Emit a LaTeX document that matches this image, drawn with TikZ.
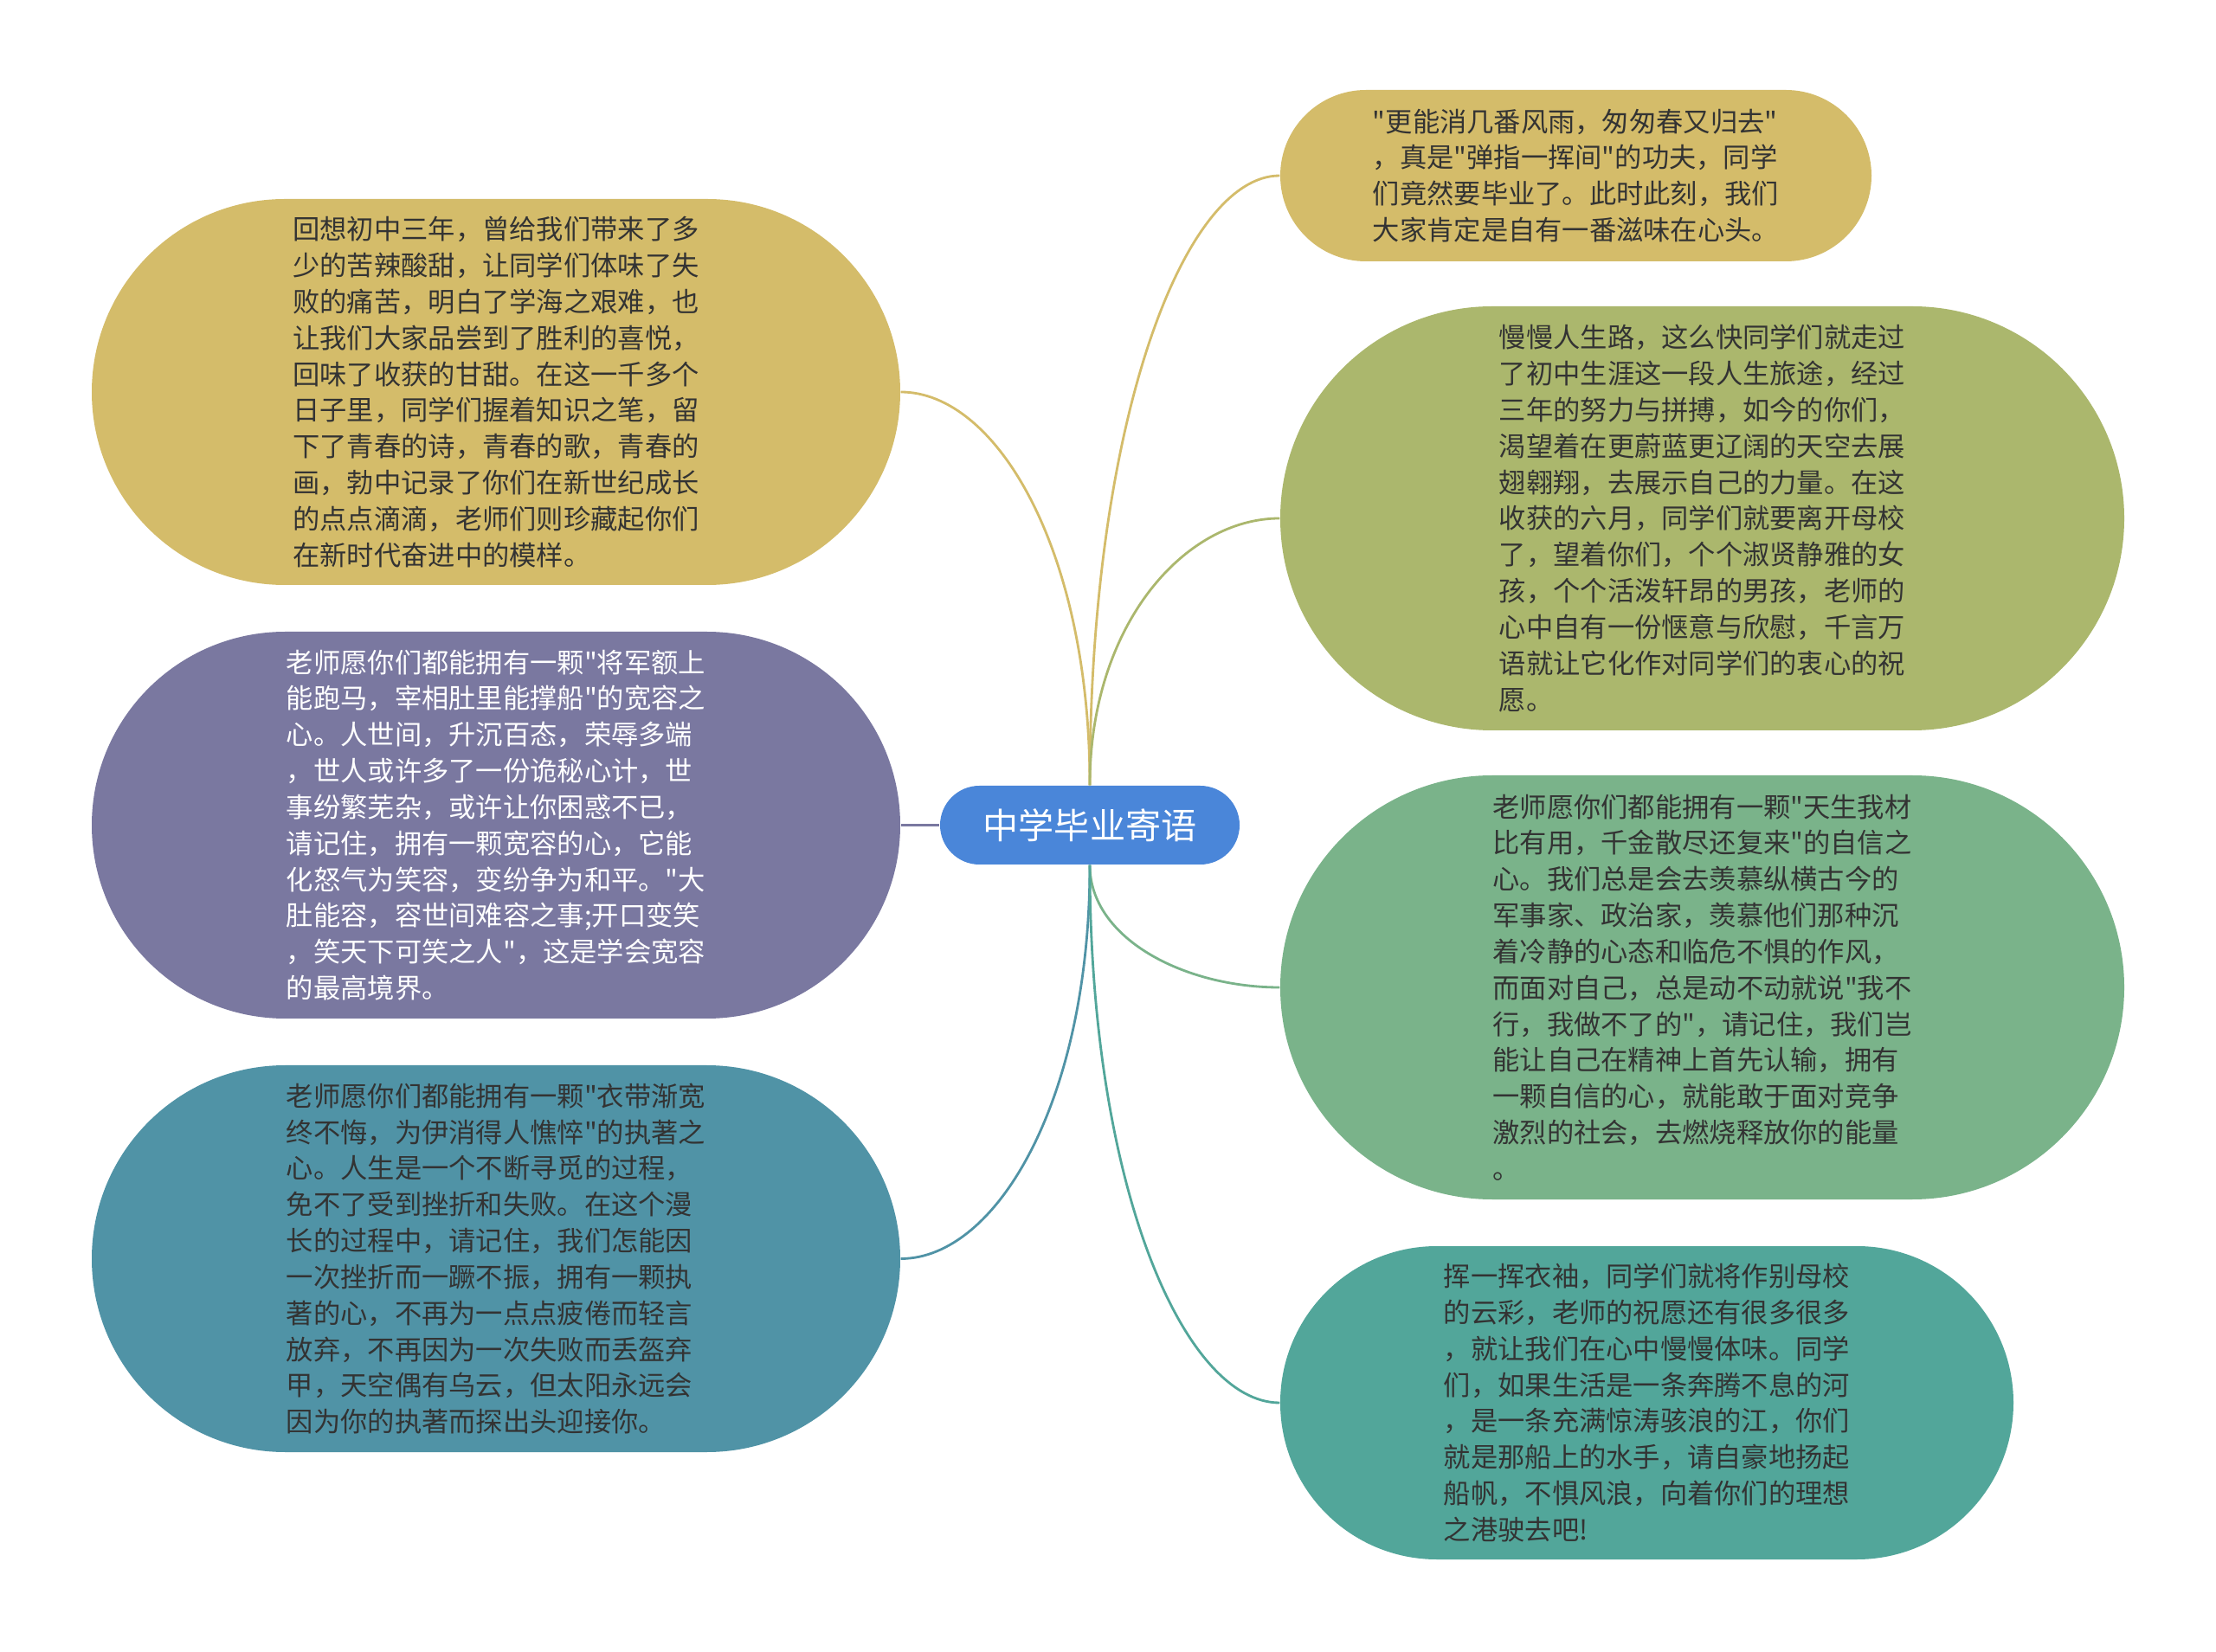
\documentclass[tikz,border=0pt]{standalone}
\usepackage{fontspec}
\setmainfont{Noto Sans CJK SC}[Ligatures=TeXOff]
\usetikzlibrary{shapes.misc}

\definecolor{gold}{HTML}{D4BC6A}
\definecolor{lilac}{HTML}{7A78A0}
\definecolor{petrol}{HTML}{5093A6}
\definecolor{olive}{HTML}{ABB76D}
\definecolor{sage}{HTML}{7AB38A}
\definecolor{sea}{HTML}{52A69A}
\definecolor{rootblue}{HTML}{4A86D9}
\definecolor{ink}{HTML}{333333}

\begin{document}
\begin{tikzpicture}[
	bubble/.style={rounded rectangle, inner sep=0pt, align=left, text=ink,
		font=\fontsize{8.9pt}{11.9pt}\selectfont},
	root/.style={rounded rectangle, inner sep=0pt, fill=rootblue, text=white,
		minimum width=3.46cm, minimum height=0.91cm,
		font=\fontsize{11.7pt}{14pt}\selectfont},
	link/.style={line width=0.8pt}
	]
	\fill[white] (0,0) rectangle (25.6,-19.09);
	\useasboundingbox (0,0) rectangle (25.6,-19.09);

	\node[root] (centre) at (12.59,-9.535) {中学毕业寄语};

	% left side
	\node[bubble, fill=gold, minimum width=9.34cm, minimum height=4.46cm] (recall) at (5.73,-4.53)
	{回想初中三年，曾给我们带来了多\\少的苦辣酸甜，让同学们体味了失\\败的痛苦，明白了学海之艰难，也\\让我们大家品尝到了胜利的喜悦，\\回味了收获的甘甜。在这一千多个\\日子里，同学们握着知识之笔，留\\下了青春的诗，青春的歌，青春的\\画，勃中记录了你们在新世纪成长\\的点点滴滴，老师们则珍藏起你们\\在新时代奋进中的模样。};
	\node[bubble, fill=lilac, text=white, minimum width=9.34cm, minimum height=4.47cm] (tolerance) at (5.73,-9.535)
	{老师愿你们都能拥有一颗"将军额上\\能跑马，宰相肚里能撑船"的宽容之\\心。人世间，升沉百态，荣辱多端\\，世人或许多了一份诡秘心计，世\\事纷繁芜杂，或许让你困惑不已，\\请记住，拥有一颗宽容的心，它能\\化怒气为笑容，变纷争为和平。"大\\肚能容，容世间难容之事;开口变笑\\，笑天下可笑之人"，这是学会宽容\\的最高境界。};
	\node[bubble, fill=petrol, minimum width=9.34cm, minimum height=4.47cm] (persist) at (5.73,-14.545)
	{老师愿你们都能拥有一颗"衣带渐宽\\终不悔，为伊消得人憔悴"的执著之\\心。人生是一个不断寻觅的过程，\\免不了受到挫折和失败。在这个漫\\长的过程中，请记住，我们怎能因\\一次挫折而一蹶不振，拥有一颗执\\著的心，不再为一点点疲倦而轻言\\放弃，不再因为一次失败而丢盔弃\\甲，天空偶有乌云，但太阳永远会\\因为你的执著而探出头迎接你。};

	% right side
	\node[bubble, fill=gold, minimum width=6.83cm, minimum height=1.98cm] (spring) at (18.205,-2.03)
	{"更能消几番风雨，匆匆春又归去"\\，真是"弹指一挥间"的功夫，同学\\们竟然要毕业了。此时此刻，我们\\大家肯定是自有一番滋味在心头。};
	\node[bubble, fill=olive, minimum width=9.75cm, minimum height=4.9cm] (journey) at (19.665,-5.99)
	{慢慢人生路，这么快同学们就走过\\了初中生涯这一段人生旅途，经过\\三年的努力与拼搏，如今的你们，\\渴望着在更蔚蓝更辽阔的天空去展\\翅翱翔，去展示自己的力量。在这\\收获的六月，同学们就要离开母校\\了，望着你们，个个淑贤静雅的女\\孩，个个活泼轩昂的男孩，老师的\\心中自有一份惬意与欣慰，千言万\\语就让它化作对同学们的衷心的祝\\愿。};
	\node[bubble, fill=sage, minimum width=9.75cm, minimum height=4.9cm] (confidence) at (19.665,-11.41)
	{老师愿你们都能拥有一颗"天生我材\\比有用，千金散尽还复来"的自信之\\心。我们总是会去羡慕纵横古今的\\军事家、政治家，羡慕他们那种沉\\着冷静的心态和临危不惧的作风，\\而面对自己，总是动不动就说"我不\\行，我做不了的"，请记住，我们岂\\能让自己在精神上首先认输，拥有\\一颗自信的心，就能敢于面对竞争\\激烈的社会，去燃烧释放你的能量\\。};
	\node[bubble, fill=sea, minimum width=8.47cm, minimum height=3.62cm] (sail) at (19.025,-16.21)
	{挥一挥衣袖，同学们就将作别母校\\的云彩，老师的祝愿还有很多很多\\，就让我们在心中慢慢体味。同学\\们，如果生活是一条奔腾不息的河\\，是一条充满惊涛骇浪的江，你们\\就是那船上的水手，请自豪地扬起\\船帆，不惧风浪，向着你们的理想\\之港驶去吧!};

	\draw[link, gold] (centre.north) .. controls +(0,2.73) and +(1.1,0) .. (recall.east);
	\draw[link, lilac] (centre.west) -- (tolerance.east);
	\draw[link, petrol] (centre.south) .. controls +(0,-2.73) and +(1.1,0) .. (persist.east);
	\draw[link, gold] (centre.north) .. controls +(0,4.23) and +(-1.1,0) .. (spring.west);
	\draw[link, olive] (centre.north) .. controls +(0,1.85) and +(-1.1,0) .. (journey.west);
	\draw[link, sage] (centre.south) .. controls +(0,-0.85) and +(-1.1,0) .. (confidence.west);
	\draw[link, sea] (centre.south) .. controls +(0,-3.73) and +(-1.1,0) .. (sail.west);
\end{tikzpicture}
\end{document}
